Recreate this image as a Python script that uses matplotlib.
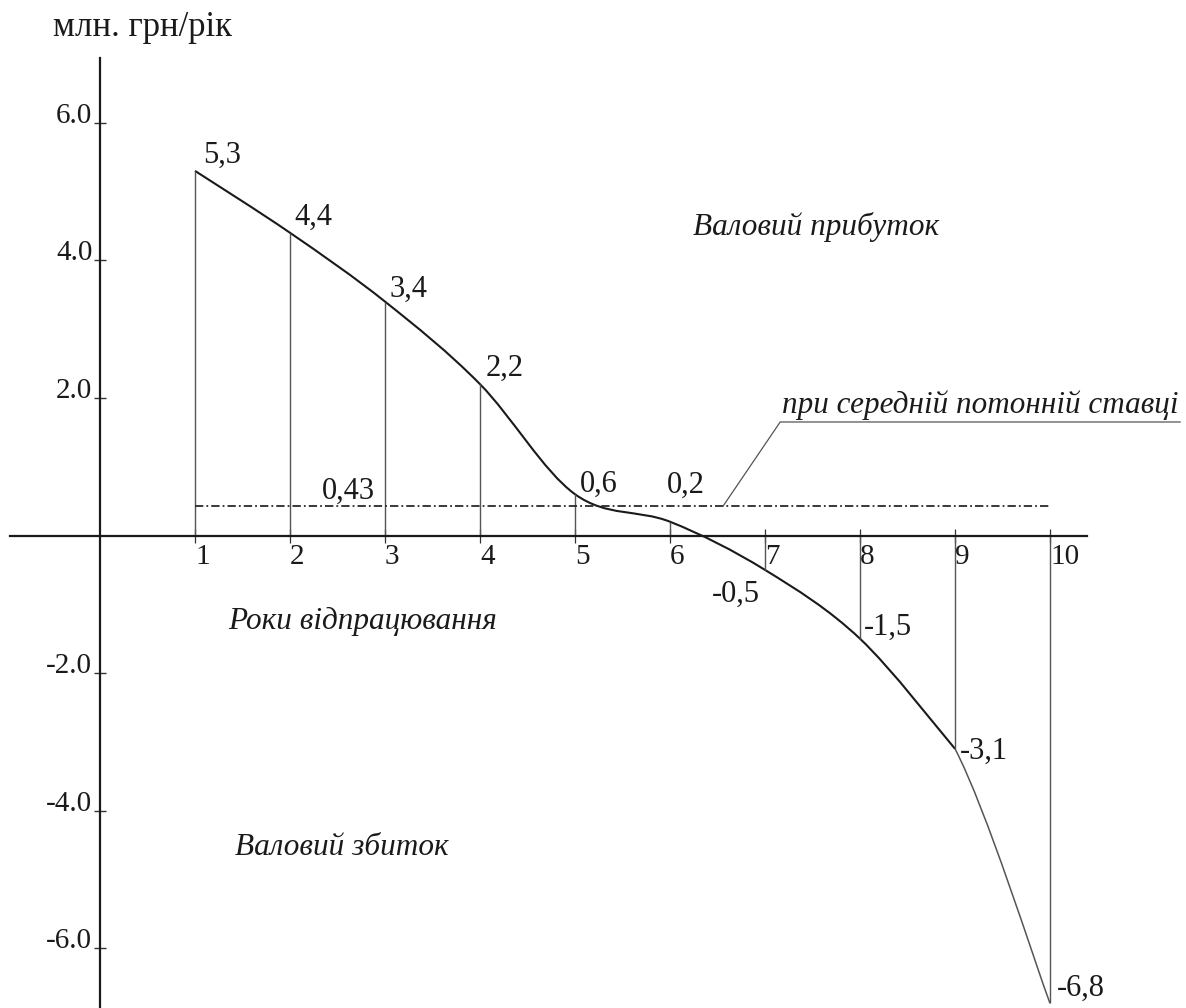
import numpy as np
import matplotlib.pyplot as plt
from matplotlib.path import Path
from matplotlib.patches import PathPatch

plt.rcParams['font.family'] = ['Liberation Serif', 'DejaVu Serif']
plt.rcParams['lines.scale_dashes'] = False

# data
years = [1, 2, 3, 4, 5, 6, 7, 8, 9, 10]
profit = [5.3, 4.4, 3.4, 2.2, 0.6, 0.2, -0.5, -1.5, -3.1, -6.8]
avg_rate = 0.43
yticks = [-6.0, -4.0, -2.0, 2.0, 4.0, 6.0]

# label offsets in points (dx, dy, ha)
offs = [(6, 6, 'left'), (3.5, 6, 'left'), (3.5, 3.5, 'left'), (4, 6, 'left'),
        (3.5, 2, 'left'), (-2, 21, 'left'), (-4, -23, 'right'), (3, 2.5, 'left'),
        (3.5, -7, 'left'), (5, 5.5, 'left')]

dark = '#1a1a1a'
grey = '#555555'

fig = plt.figure(figsize=(11.86, 10.08), dpi=100)
ax = fig.add_axes([0, 0, 1, 1])
ax.set_xlim(-100/95, (1186-100)/95)
ax.set_ylim(-(1008-535.5)/68.8, 535.5/68.8)

for s in ['top', 'right']:
    ax.spines[s].set_visible(False)
ax.spines['left'].set_position(('data', 0))
ax.spines['bottom'].set_position(('data', 0))
ax.spines['left'].set_bounds(-6.87, 6.94)
ax.spines['bottom'].set_bounds(-0.95, 10.39)
for s in ['left', 'bottom']:
    ax.spines[s].set_linewidth(1.6)
    ax.spines[s].set_color(dark)

ax.set_xticks(years)
ax.set_xticklabels([str(y) for y in years], ha='left', fontsize=21)
ax.set_yticks(yticks)
ax.set_yticklabels(['%.1f' % t for t in yticks], va='baseline', fontsize=21)
ax.tick_params(axis='x', direction='inout', length=10, width=0.9, pad=1, labelcolor=dark)
ax.tick_params(axis='y', direction='inout', length=9, width=1.0, pad=1, labelcolor=dark)
ax.tick_params(axis='both', color='#333333')

# vertical drop lines
ax.vlines(years, 0, profit, color=grey, lw=1.0)

# smooth curve (catmull-rom -> bezier)
def bez_path(xs, ys):
    p = np.column_stack([xs, ys])
    ext = np.vstack([p[0], p, p[-1]])
    verts = [p[0]]
    codes = [Path.MOVETO]
    for i in range(len(p) - 1):
        p0, p1, p2, p3 = ext[i], ext[i+1], ext[i+2], ext[i+3]
        verts += [p1 + (p2 - p0) / 6, p2 - (p3 - p1) / 6, p2]
        codes += [Path.CURVE4] * 3
    return Path(verts, codes)

ax.add_patch(PathPatch(bez_path(years[:9], profit[:9]), fill=False, ec=dark, lw=1.5))
v = bez_path(years[7:], profit[7:]).vertices[3:]
ax.add_patch(PathPatch(Path(v, [Path.MOVETO] + [Path.CURVE4]*3), fill=False, ec=grey, lw=1.1))

# average rate line
ax.plot([years[0], years[-1]], [avg_rate, avg_rate], color='#2a2a2a', lw=1.3,
        dashes=(6, 2.2, 1.3, 2.2))
ax.annotate(('%.2f' % avg_rate).replace('.', ','), (2.34, avg_rate), xytext=(0, 5),
            textcoords='offset points', fontsize=22, color=dark)

# leader line and label
ax.plot([6.56, 7.16, 11.37], [avg_rate, 1.65, 1.65], color=grey, lw=0.9)
ax.text(7.18, 1.78, 'при середній потонній ставці', fontsize=22.4, style='italic', color=dark)

# value labels
for x, y, (dx, dy, ha) in zip(years, profit, offs):
    ax.annotate(('%.1f' % y).replace('.', ','), (x, y), xytext=(dx, dy),
                textcoords='offset points', ha=ha, va='baseline', fontsize=22, color=dark)

ax.text(-0.495, 7.26, 'млн. грн/рік', fontsize=25, color=dark, va='baseline')
ax.text(6.24, 4.37, 'Валовий прибуток', fontsize=22.5, style='italic', color=dark, va='baseline')
ax.text(1.35, -1.36, 'Роки відпрацювання', fontsize=22.5, style='italic', color=dark, va='baseline')
ax.text(1.42, -4.64, 'Валовий збиток', fontsize=22.5, style='italic', color=dark, va='baseline')

fig.savefig('out.png', dpi=100)
